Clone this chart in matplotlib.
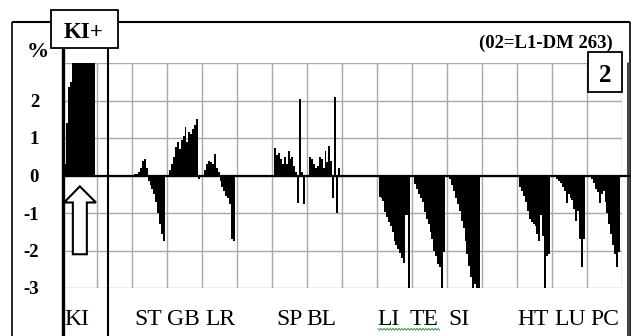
import numpy as np
import matplotlib
matplotlib.use("Agg")
import matplotlib.pyplot as plt
from matplotlib.patches import Rectangle, Polygon
from matplotlib.lines import Line2D

# x-axis slots (empty string = blank column)
slots = ["KI", "", "ST", "GB", "LR", "", "SP", "BL", "", "LI", "TE", "SI", "", "HT", "LU", "PC"]

# % values per meridian (KI top bars are off-scale)
ki_vals = [0.3, 1.4, 2.35, 2.5, 3.5, 3.5, 3.5, 3.5, 3.5, 3.5, 3.5, 3.5, 3.5, 3.5, 3.5, 3.5]
st_vals = [0.05, 0.05, 0.1, 0.2, 0.4, 0.45, 0.2, -0.15, -0.25, -0.35, -0.5, -0.7, -1.0, -1.3, -1.55, -1.75]
gb_vals = [0.15, 0.3, 0.5, 0.75, 0.9, 0.7, 0.95, 1.05, 1.3, 0.9, 1.15, 1.1, 1.25, 1.35, 1.5, -0.1]
lr_vals = [0.15, 0.3, 0.38, 0.35, 0.3, 0.58, 0.2, 0.1, -0.15, -0.3, -0.4, -0.55, -0.6, -0.75, -1.7, -1.75]
sp_vals = [0.73, 0.55, 0.6, 0.45, 0.3, 0.5, 0.3, 0.65, 0.45, 0.5, 0.25, 0.1, -0.73, 2.05, 0.1, -0.75]
bl_vals = [0.5, 0.45, 0.3, 0.2, 0.25, 0.5, 0.45, 0.2, 0.65, 0.35, 0.8, 0.4, -0.6, 2.1, -1.0, 0.2]
li_vals = [-0.57, -0.6, -0.68, -0.97, -1.1, -1.25, -1.35, -1.5, -1.75, -1.85, -1.95, -2.06, -2.2, -2.33, -1.05, -1.05, -3.05]
te_vals = [-0.23, -0.35, -0.5, -0.6, -0.7, -0.97, -1.15, -1.3, -1.5, -1.7, -2.0, -2.15, -2.35, -2.45, -3.05, -2.05]
si_vals = [-0.1, -0.25, -0.4, -0.6, -0.75, -0.95, -1.2, -1.4, -1.75, -2.1, -2.4, -2.7, -3.05, -2.9, -3.05, -3.05]
ht_vals = [-0.3, -0.4, -0.55, -0.7, -0.95, -1.15, -1.25, -1.3, -1.35, -1.55, -1.75, -1.05, -1.6, -3.0, -2.15, -2.1]
lu_vals = [-0.05, -0.08, -0.15, -0.2, -0.3, -0.4, -0.72, -0.5, -0.6, -0.65, -0.9, -1.2, -0.95, -1.7, -2.45, -1.7]
pc_vals = [-0.05, -0.1, -0.2, -0.35, -0.45, -0.72, -0.5, -0.4, -0.7, -1.0, -1.3, -1.55, -1.85, -2.1, -2.45, -2.05]

values = {"KI": ki_vals, "ST": st_vals, "GB": gb_vals, "LR": lr_vals,
          "SP": sp_vals, "BL": bl_vals, "LI": li_vals, "TE": te_vals,
          "SI": si_vals, "HT": ht_vals, "LU": lu_vals, "PC": pc_vals}

ytick_vals = [-3, -2, -1, 0, 1, 2, 3]
ytick_text = ["-3", "-2", "-1", "0", "1", "2", ""]

# label nudges in pixels (typed labels are not exactly centred)
label_nudge = {"KI": -3, "ST": -1, "GB": -1, "LR": 1, "SP": 0, "BL": -3,
               "LI": -6, "TE": -5, "SI": -5, "HT": -1, "LU": 1, "PC": 0}

W, H = 641, 336
SERIF = "Liberation Serif"


def fx(x):
    return x / W


def fy(y):
    return 1 - y / H


def fline(x0, x1, y0, y1, lw=1.2, color="black"):
    fig.add_artist(Line2D([fx(x0), fx(x1)], [fy(y0), fy(y1)], transform=fig.transFigure,
                          color=color, lw=lw, solid_capstyle="butt"))


fig = plt.figure(figsize=(W / 100, H / 100), dpi=100)
ax = fig.add_axes([fx(62), fy(288), 560 / W, 225 / H])

for i, name in enumerate(slots):
    if not name:
        continue
    vals = values[name]
    step = 0.9 / len(vals)
    xs = i + 0.05 + step * (np.arange(len(vals)) + 0.5)
    ax.bar(xs, vals, width=step, color="black", linewidth=0, zorder=3)

ax.set_xlim(0, len(slots))
ax.set_ylim(-3, 3)
ax.set_xticks(np.arange(len(slots) + 1))
ax.set_xticklabels([])
ax.set_yticks(ytick_vals)
ax.set_yticklabels(ytick_text, fontfamily=SERIF, fontweight="bold", fontsize=13.5)
ax.tick_params(length=0, axis="y", pad=16.5)
ax.tick_params(length=0, axis="x")
ax.grid(color="#a8a8a8", lw=1.0, zorder=0)
ax.set_axisbelow(True)
for s in ax.spines.values():
    s.set_visible(False)
ax.axhline(0, color="black", lw=1.6, zorder=4)

# hollow up arrow in the KI column
arrow = Polygon([(0.31, -2.1), (0.31, -0.72), (0.06, -0.72), (0.51, -0.29),
                 (0.97, -0.72), (0.71, -0.72), (0.71, -2.1)],
                closed=True, facecolor="white", edgecolor="black", lw=1.5, zorder=5)
ax.add_patch(arrow)

# meridian labels under the columns
for i, name in enumerate(slots):
    if not name:
        continue
    cx = 62 + 35 * (i + 0.5) + label_nudge[name]
    fig.text(fx(cx), fy(325), name, ha="center", va="baseline",
             fontfamily=SERIF, fontsize=17)

# outer frame
fline(12, 12, 22, 336)
fline(12, 630, 22, 22, lw=1.5)
fline(629.5, 629.5, 22, 336)
fline(628, 628, 62, 336, lw=2.2, color="#444444")
# zero line extends to the frame
fline(622, 630, 175.5, 175.5, lw=1.6)

# KI highlight column
fline(62.5, 62.5, 48, 336, lw=2.4)
fline(108, 108, 48, 336, lw=1.5)
fig.add_artist(Rectangle((fx(51), fy(48)), (118 - 51) / W, (48 - 10) / H,
                         transform=fig.transFigure, facecolor="white",
                         edgecolor="black", lw=1.3, zorder=6))
fig.text(fx(84), fy(38), "KI+", ha="center", va="baseline", fontfamily=SERIF,
         fontweight="bold", fontsize=16.5, zorder=7)

fig.text(fx(37.5), fy(57), "%", ha="center", va="baseline", fontfamily=SERIF,
         fontweight="bold", fontsize=16)

fig.text(fx(613), fy(48), "(02=L1-DM 263)", ha="right", va="baseline",
         fontfamily=SERIF, fontweight="bold", fontsize=13.5)

fig.add_artist(Rectangle((fx(588), fy(92)), (622 - 588) / W, (92 - 52) / H,
                         transform=fig.transFigure, facecolor="white",
                         edgecolor="black", lw=1.3, zorder=6))
fig.text(fx(605), fy(82), "2", ha="center", va="baseline", fontfamily=SERIF,
         fontweight="bold", fontsize=18, zorder=7)

# spell-check squiggle under "LI TE"
sq_x = np.arange(378, 441, 1.5)
sq_y = np.where(np.arange(len(sq_x)) % 2 == 0, 328.3, 330.3)
fig.add_artist(Line2D(fx(sq_x), fy(sq_y), transform=fig.transFigure,
                      color="#3c9a3c", lw=0.7))

fig.savefig("out.png", dpi=100, facecolor="white")
